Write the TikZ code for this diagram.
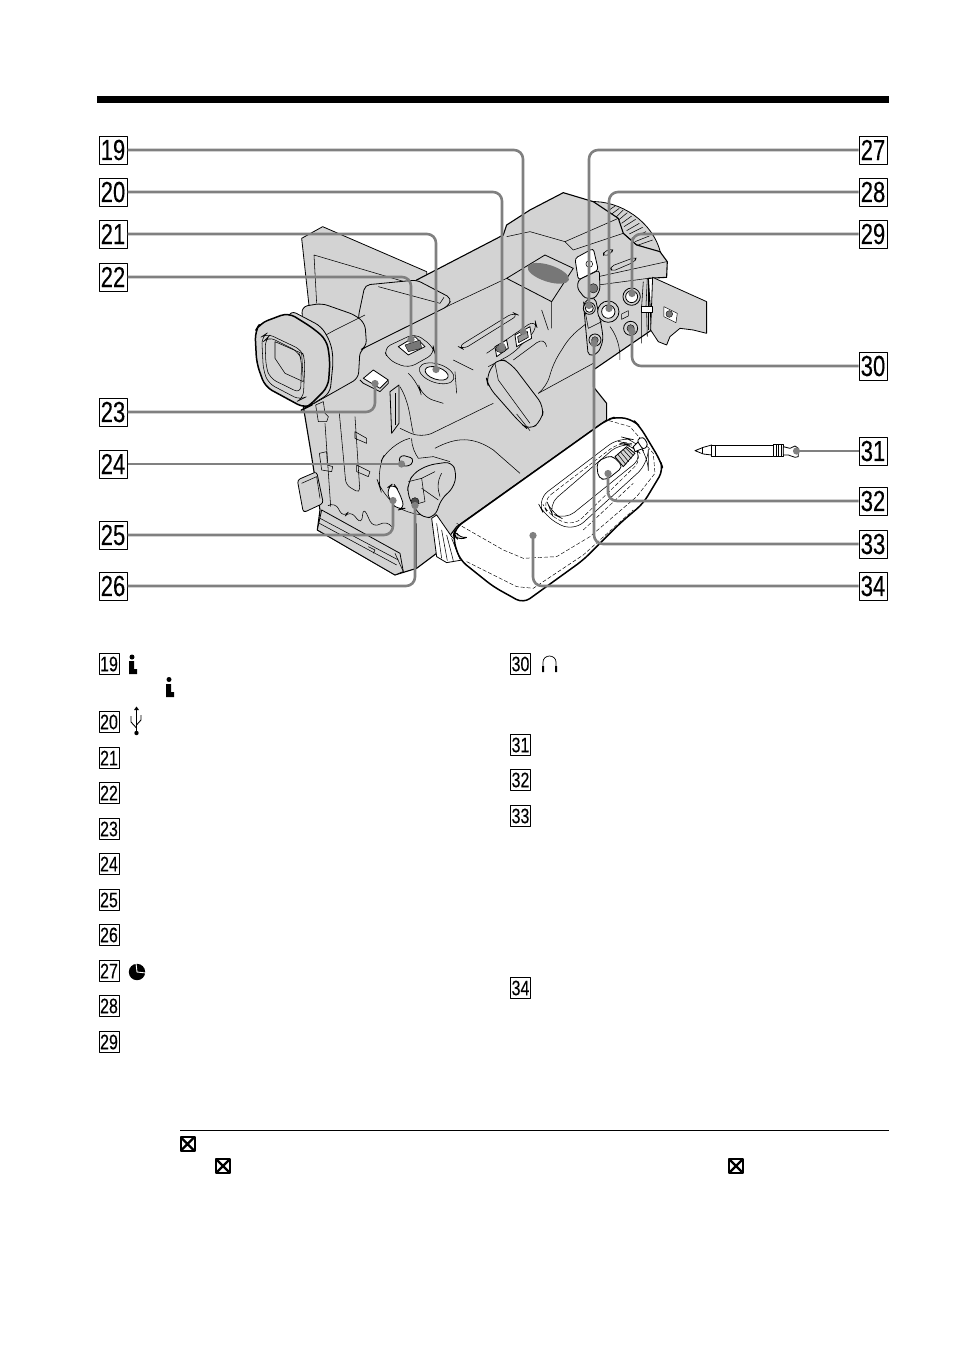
\documentclass[tikz,border=0pt]{standalone}
\usepackage{fontspec}
\usepackage{xcolor}
\usetikzlibrary{arrows.meta}
\newfontfamily\numfont[FakeStretch=0.76,FakeBold=0.25]{Liberation Sans}
\definecolor{camgray}{HTML}{D3D3D3}
\definecolor{leadgray}{HTML}{808080}
\definecolor{grillgray}{HTML}{777777}
\begin{document}
\begin{tikzpicture}[x=1pt,y=-1pt,line join=round,
  big box/.style={draw,line width=1pt,minimum width=28pt,minimum height=28pt,inner sep=0pt,font=\fontsize{29}{29}\numfont},
  list box/.style={draw,line width=0.8pt,minimum width=20pt,minimum height=21pt,inner sep=0pt,font=\fontsize{21}{21}\numfont},
  leader/.style={draw=leadgray,line width=2.6pt,rounded corners=9pt,-{Circle[length=7pt,width=7pt]}},
  part/.style={draw=black,fill=camgray,line width=0.8pt},
  plain part/.style={draw=black,fill=white,line width=0.8pt},
  heavy/.style={draw=black,line width=1.5pt},
  fine/.style={draw=black,line width=0.55pt},
  stitch/.style={draw=black,line width=0.45pt,dash pattern=on 4pt off 2pt},
  xbox/.style={draw,line width=2pt,fill=white,minimum size=14pt,inner sep=0pt,
    path picture={\draw[line width=2.4pt] (path picture bounding box.north west) -- (path picture bounding box.south east)
      (path picture bounding box.north east) -- (path picture bounding box.south west);}}]
\useasboundingbox (0,0) rectangle (954,1352);

% Top bar
\fill (97,96) rectangle (889,103);

% Camera, numbers are in thirds of a pixel
\begin{scope}[shift={(240,190)},x=0.3333pt,y=-0.3333pt]
% lens ring
\draw[part] (1050,35) .. controls (1140,30) and (1240,95) .. (1262,190) -- (1150,150) -- cycle;
\draw[fine] (1125,48) -- (1105,62) (1150,60) -- (1128,82) (1175,78) -- (1145,100) (1198,100) -- (1160,122) (1218,125) -- (1175,145) (1238,150) -- (1195,165) (1138,55) -- (1115,72) (1162,68) -- (1136,90) (1187,88) -- (1152,110) (1208,112) -- (1168,132) (1228,138) -- (1185,155);
% lcd panel
\draw[part] (185,145) -- (248,110) -- (560,245) -- (560,330) -- (215,420) -- cycle;
\draw[fine] (222,195) -- (230,340) (222,195) -- (510,280);
% body
\draw[part,line width=1.1pt] (530,270) -- (790,135) -- (800,105) -- (870,60) -- (970,8) -- (1060,35) -- (1135,85) -- (1150,130) -- (1190,165) -- (1260,185) -- (1282,215) -- (1280,262) -- (1225,265) -- (1235,420) -- (1060,540) -- (1060,590) -- (1100,640) -- (1100,690) -- (650,1010) -- (590,1090) -- (530,1135) -- (465,1155) -- (232,1020) -- (240,960) -- (215,800) -- (190,650) -- (360,470) -- cycle;
% upper shoulder
\draw[fine] (975,155) -- (1135,85) (975,155) -- (1000,180) -- (1150,130) (975,155) -- (870,125) -- (800,140) (1150,130) -- (1190,165);
\draw[fine,rounded corners=4pt] (1090,185) -- (1120,175) -- (1115,190) -- (1090,200) -- cycle;
\draw[fine,rounded corners=4pt] (1110,230) -- (1190,200) -- (1185,215) -- (1115,245) -- cycle;
\draw[fine] (1075,260) -- (1280,215) (1075,285) -- (1225,265);
% hot shoe
\draw[part] (800,265) -- (915,195) -- (1000,235) -- (935,335) -- cycle;
\fill[grillgray,rotate around={-18:(925,250)}] (925,250) ellipse (65 and 25);
% console lines
\draw[fine] (360,480) -- (630,345) -- (800,265);
\draw[fine,rounded corners=6pt] (655,470) -- (820,368) -- (835,375) -- (670,478) -- cycle;
\draw[fine,rounded corners=8pt] (740,490) -- (885,390) -- (892,415) -- (820,490) -- (745,530);
\draw[fine] (935,335) -- (935,415) (905,360) -- (925,420);
\draw[fine,rounded corners=10pt] (820,510) -- (915,440) -- (920,470);
\draw[fine,rounded corners=10pt] (1040,400) -- (990,440) -- (940,520) -- (920,590) -- (895,610);
\draw[fine] (895,610) -- (1060,520);
\draw[fine,rounded corners=10pt] (1110,410) .. controls (1140,450) and (1140,490) .. (1140,510);
% viewfinder tube
\draw[part,rounded corners=5pt] (375,285) -- (530,270) -- (635,325) -- (625,348) -- (360,480) -- (355,380) -- cycle;
\draw[fine] (415,290) -- (600,340) -- (612,322);
% housing
\draw[part,rounded corners=6pt] (185,350) -- (245,340) -- (345,375) -- (375,400) -- (380,470) -- (360,480) -- (355,565) -- (205,650) -- cycle;
\draw[fine] (230,450) -- (285,420) -- (375,375);
\draw[part,line width=0.8pt,rounded corners=7pt] (150,360) -- (245,410) -- (273,460) -- (280,510) -- (270,610) -- (205,650) -- (120,500) -- cycle;
\draw[heavy,fill=camgray,rounded corners=8pt] (45,425) -- (60,400) -- (145,368) -- (220,415) -- (260,450) -- (270,510) -- (265,590) -- (205,650) -- (195,655) -- (75,590) -- (50,520) -- cycle;
\draw[fine,rounded corners=7pt] (65,440) -- (80,430) -- (185,480) -- (195,510) -- (190,625) -- (180,630) -- (85,580) -- (70,540) -- cycle;
\draw[fine,rounded corners=7pt] (75,450) -- (85,440) -- (175,485) -- (185,510) -- (182,610) -- (90,565) -- (78,530) -- cycle;
\draw[fine] (105,455) -- (185,490) -- (190,575) -- (135,550) -- (105,505) -- cycle;
% top controls
\draw[fine,rounded corners=8pt] (430,475) -- (525,430) -- (580,470) -- (585,490) -- (505,535) -- (445,510) -- cycle;
\draw[plain part] (475,470) -- (525,440) -- (555,470) -- (505,495) -- cycle;
\draw[fill=grillgray,line width=0.4pt] (495,465) -- (540,450) -- (545,475) -- (505,485) -- cycle;
\draw[fine,rotate around={-18:(590,550)}] (590,550) ellipse (54 and 28);
\draw[plain part,rotate around={-18:(590,550)}] (590,550) ellipse (36 and 18);
\draw[fine,rounded corners=12pt] (505,550) -- (535,580) -- (545,620) -- (610,640) (645,545) -- (650,610) (640,510) -- (700,540);
\draw[part] (360,570) -- (370,580) -- (420,605) -- (445,580) -- (445,572);
\draw[plain part] (370,565) -- (400,540) -- (445,570) -- (420,595) -- cycle;
\draw[plain part,fill=camgray] (450,605) -- (477,585) -- (477,700) -- (455,730) -- cycle;
\draw[fine] (465,610) -- (465,705);
\draw[fine] (480,590) .. controls (510,640) and (510,690) .. (520,730);
% side bay
\draw[fine] (227,645) -- (250,635) -- (255,670) -- (265,680) -- (260,695) -- (235,695) -- cycle;
\draw[fine] (238,790) -- (260,785) -- (262,825) -- (278,830) -- (275,845) -- (245,840) -- cycle;
\draw[fine,rounded corners=5pt] (298,670) -- (318,885) -- (360,910) -- (345,680);
\draw[fine] (255,700) -- (272,950) (345,725) -- (380,745) -- (380,760) -- (345,745) -- cycle (350,825) -- (390,845) -- (385,860) -- (350,845) -- cycle;
\draw[part,rounded corners=3pt] (172,870) -- (230,845) -- (250,940) -- (190,968) -- cycle;
\draw[fine] (185,880) -- (230,860) -- (240,925);
\draw[fine,rounded corners=8pt] (268,945) -- (285,935) -- (310,985) -- (330,960) -- (365,1005) -- (370,950) -- (400,1015) -- (440,990) -- (455,1010);
% bottom rail
\draw[part] (245,960) -- (480,1090) -- (490,1145) -- (465,1155) -- (232,1020) -- cycle;
\draw[fine] (238,1000) -- (470,1125) (240,985) -- (475,1110) (385,1070) -- (405,1080) -- (400,1090);
% grip
\draw[fine,rounded corners=20pt] (510,745) -- (450,760) -- (405,850) -- (430,925) -- (530,985) -- (585,975);
\draw[fine,rounded corners=12pt] (480,715) -- (545,745) -- (760,640);
\draw[fine] (515,745) .. controls (515,770) and (525,790) .. (535,805);
\draw[fine] (585,775) .. controls (650,740) and (700,740) .. (760,780) -- (840,850);
% mode dial
\draw[part,rounded corners=3pt] (475,810) -- (485,795) -- (520,805) -- (515,825) -- (490,830) -- cycle;
\draw[fine] (535,805) -- (580,800) -- (630,815);
\draw[part,rounded corners=7pt] (505,880) -- (520,850) -- (565,825) -- (635,815) -- (650,850) -- (640,895) -- (605,925) -- (585,980) -- (550,985) -- (520,950) -- (502,910) -- cycle;
\draw[fine,rounded corners=8pt] (605,850) -- (590,880) -- (600,920);
\draw[fine] (505,875) -- (545,865) -- (555,935) -- (520,945) (545,865) -- (585,845) (545,895) -- (595,930);
\draw[plain part,rounded corners=7pt] (440,895) -- (460,880) -- (475,900) -- (495,955) -- (475,960) -- (450,935) -- cycle;
\draw[fill=black!70,line width=0.4pt] (525,935) circle (12);
% lower grip edge
\draw[fine] (530,1000) -- (530,1135) (465,1090) -- (490,1145);
% connector panel
\draw[fine] (1225,265) -- (1225,420);
\draw[part,rounded corners=5pt] (1030,335) -- (1065,320) -- (1085,410) -- (1090,450) -- (1075,490) -- (1045,500) -- cycle;
\draw[fine] (1030,335) -- (1045,415) -- (1085,395);
\draw[part] (1048,355) circle (18);
\draw[plain part] (1048,355) circle (12);
\draw[part] (1065,450) circle (18);
\draw[fill=grillgray,line width=0.4pt] (1065,450) circle (10);
\draw[part] (1105,365) circle (32);
\draw[plain part] (1105,365) circle (20);
\draw[part] (1175,320) circle (26);
\draw[plain part] (1175,320) circle (18);
\draw[part] (1172,415) circle (21);
\draw[fill=grillgray,line width=0.4pt] (1172,415) circle (11);
\draw[fine] (1145,372) -- (1165,362) -- (1165,378) -- (1145,388) -- cycle;
% plug on cord
\draw[plain part,rounded corners=3pt] (1005,205) -- (1060,175) -- (1075,240) -- (1015,270) -- cycle;
\draw[part,rounded corners=3pt] (1015,270) -- (1078,240) -- (1080,300) -- (1065,325) -- (1035,325) -- (1012,295) -- cycle;
\draw[fill=grillgray,line width=0.4pt] (1060,295) circle (14);
\draw[fine] (1048,222) circle (10);
% side door
\draw[part] (1238,262) -- (1400,335) -- (1400,430) -- (1360,420) -- (1320,415) -- (1290,440) -- (1280,465) -- (1255,455) -- (1232,420) -- cycle;
\draw[fill=white,line width=0.5pt] (1272,350) -- (1312,370) -- (1308,398) -- (1272,380) -- cycle;
\draw[fill=grillgray,line width=0.4pt] (1288,372) circle (10);
\draw[plain part] (1205,350) -- (1238,350) -- (1238,367) -- (1205,367) -- cycle;
\draw[fine] (1210,275) -- (1205,350) (1222,265) -- (1218,350) (1205,367) -- (1205,460) (1220,367) -- (1222,440);
% flap lid
\draw[part,rounded corners=9pt] (738,560) -- (775,502) -- (815,522) -- (912,650) -- (905,692) -- (868,722) -- (840,698) -- (745,590) -- cycle;
\draw[fine] (830,672) -- (870,722) (765,520) -- (775,570) -- (870,700);
\draw[plain part] (765,470) -- (800,450) -- (805,475) -- (770,500) -- cycle;
\draw[fill=grillgray,line width=0.4pt] (783,476) ellipse (16 and 12);
\draw[plain part] (825,435) -- (870,410) -- (875,445) -- (830,470) -- cycle;
\draw[fill=black!40,line width=0.6pt] (833,440) -- (862,424) -- (865,442) -- (836,458) -- cycle;
% hand strap band
\draw[plain part] (575,985) -- (590,975) -- (635,1040) -- (660,1060) -- (755,1095) -- (620,1118) -- (590,1100) -- cycle;
\draw[fine] (590,1000) -- (605,1105) (605,1020) -- (622,1112) (620,1035) -- (640,1112) (635,1045) -- (660,1108) (650,1055) -- (680,1105) (670,1065) -- (700,1102) (690,1072) -- (725,1098);
% hand strap
\draw[heavy,fill=white,rounded corners=8pt] (645,1015) -- (1100,690) -- (1130,680) -- (1180,690) -- (1200,710) -- (1260,810) -- (1270,840) -- (1210,940) -- (1140,1000) -- (1030,1110) -- (850,1240) -- (760,1190) -- (660,1110) -- (640,1050) -- cycle;
\draw[part,rounded corners=6pt] (645,1020) -- (660,1045) -- (690,1040) -- (655,1050) -- (640,1035) -- cycle;
\draw[stitch] (650,1000) -- (790,1080) -- (850,1105) -- (950,1100) -- (1050,1040) -- (1190,920) -- (1245,850) -- (1240,790) -- (1170,710) -- (1100,690);
\draw[stitch] (680,1115) -- (830,1190) -- (880,1195) -- (1030,1095) -- (1180,960);
\draw[stitch] (1030,1020) -- (1180,880);
% strap pocket
\draw[fine,rounded corners=14pt] (890,930) -- (1140,740) -- (1185,750) -- (1225,800) -- (1225,820) -- (1000,1025) -- (915,980) -- cycle;
\draw[stitch,rounded corners=12pt] (905,935) -- (1140,755) -- (1170,760) -- (1210,805) -- (1000,1010) -- (925,975) -- cycle;
\draw[fine,rounded corners=12pt] (925,945) -- (1140,760) -- (1175,765) -- (1210,800) -- (975,990) -- (935,970) -- cycle;
% pen in its holder
\draw[plain part,rounded corners=5pt] (1070,815) -- (1115,795) -- (1150,830) -- (1100,870) -- (1075,865) -- cycle;
\draw[part] (1125,800) -- (1160,770) -- (1185,790) -- (1150,830) -- cycle;
\draw[fine] (1133,792) -- (1158,824) (1141,785) -- (1166,815) (1149,778) -- (1174,806) (1156,773) -- (1180,797);
\draw[plain part] (1180,770) -- (1200,750) -- (1210,775) -- (1185,785) -- cycle;
\draw[plain part,rounded corners=3pt] (1190,750) -- (1210,740) -- (1225,765) -- (1210,780) -- cycle;
\end{scope}

% Stylus
\begin{scope}[shift={(680,430)},x=0.3333pt,y=-0.3333pt]
\draw[plain part] (45,62) -- (70,52) -- (95,45) -- (95,75) -- (70,72) -- cycle;
\draw[plain part] (95,45) rectangle (280,78);
\draw[fine] (105,45) -- (105,78) (68,52) -- (68,72);
\draw[plain part] (280,43) rectangle (310,80);
\draw[fine] (288,43) -- (288,80) (295,43) -- (295,80) (303,43) -- (303,80);
\draw[plain part] (310,50) -- (330,55) -- (345,48) -- (355,55) -- (355,80) -- (345,82) -- (325,75) -- (310,75) -- cycle;
\end{scope}

% Label boxes, left
\node[big box] (b19) at (113,150) {19};
\node[big box] (b20) at (113,192) {20};
\node[big box] (b21) at (113,234) {21};
\node[big box] (b22) at (113,277) {22};
\node[big box] (b23) at (113,412) {23};
\node[big box] (b24) at (113,464) {24};
\node[big box] (b25) at (113,535) {25};
\node[big box] (b26) at (113,586) {26};
% Label boxes, right
\node[big box] (b27) at (873,150) {27};
\node[big box] (b28) at (873,192) {28};
\node[big box] (b29) at (873,234) {29};
\node[big box] (b30) at (873,366) {30};
\node[big box] (b31) at (873,451) {31};
\node[big box] (b32) at (873,501) {32};
\node[big box] (b33) at (873,544) {33};
\node[big box] (b34) at (873,586) {34};

% Leader ends
\coordinate (p19) at (523,335);
\coordinate (p20) at (502,350);
\coordinate (p21) at (436,373);
\coordinate (p22) at (411,343);
\coordinate (p23) at (375,380);
\coordinate (p24) at (405,464);
\coordinate (p25) at (393,497);
\coordinate (p26) at (415,502);
\coordinate (p27) at (589,309);
\coordinate (p28) at (609,312);
\coordinate (p29) at (632,297);
\coordinate (p30) at (632,328);
\coordinate (p31) at (793,451);
\coordinate (p32) at (608,470);
\coordinate (p33) at (594,340);
\coordinate (p34) at (533,532);

% Leaders
\draw[leader] (b19) -| (p19);
\draw[leader] (b20) -| (p20);
\draw[leader] (b21) -| (p21);
\draw[leader] (b22) -| (p22);
\draw[leader] (b23) -| (p23);
\draw[leader] (b24) -- (p24);
\draw[leader] (b25) -| (p25);
\draw[leader] (b26) -| (p26);
\draw[leader] (b27) -| (p27);
\draw[leader] (b28) -| (p28);
\draw[leader] (b29) -| (p29);
\draw[leader] (b30) -| (p30);
\draw[leader] (b31) -- (p31);
\draw[leader] (b32) -| (p32);
\draw[leader] (b33) -| (p33);
\draw[leader] (b34) -| (p34);

% List, left column
\node[list box] (l19) at (109,664) {19};
\node[list box] (l20) at (109,722) {20};
\node[list box] (l21) at (109,758) {21};
\node[list box] (l22) at (109,793) {22};
\node[list box] (l23) at (109,829) {23};
\node[list box] (l24) at (109,864) {24};
\node[list box] (l25) at (109,900) {25};
\node[list box] (l26) at (109,935) {26};
\node[list box] (l27) at (109,971) {27};
\node[list box] (l28) at (109,1006) {28};
\node[list box] (l29) at (109,1042) {29};
% List, right column
\node[list box] (l30) at (520.5,664) {30};
\node[list box] (l31) at (520.5,745) {31};
\node[list box] (l32) at (520.5,780) {32};
\node[list box] (l33) at (520.5,816) {33};
\node[list box] (l34) at (520.5,988) {34};

% i.LINK marks
\fill (132,657) circle (2.5) (129,661) rectangle (134,674) (134,669) rectangle (137,674);
\fill (169,679.5) circle (2.5) (166,684) rectangle (171,697) (171,692) rectangle (174,697);
% USB mark
\fill (136.5,733) circle (2.2) (134,710) -- (139,710) -- (136.5,706.5) -- cycle;
\draw[line width=0.9pt] (136.5,710) -- (136.5,733) (136.5,728) -- (131,722) -- (131,716) (136.5,725) -- (141,720) -- (141,715);
% Headphone mark
\draw[line width=0.7pt] (543,668) -- (543,662) arc[start angle=180,end angle=360,x radius=6.5,y radius=6] -- (556,668);
\fill (542,666) rectangle (544,672) (555,666) rectangle (557,672);
% LANC mark
\fill (137,972) circle (8.2);
\draw[white,line width=0.9pt] (136,963) -- (137,972) -- (146,973);

% Note
\draw[line width=0.8pt] (180,1130) -- (889,1130);
\node[xbox] (x1) at (187.5,1144) {};
\node[xbox] (x2) at (223,1166) {};
\node[xbox] (x3) at (736,1166) {};
\end{tikzpicture}
\end{document}
